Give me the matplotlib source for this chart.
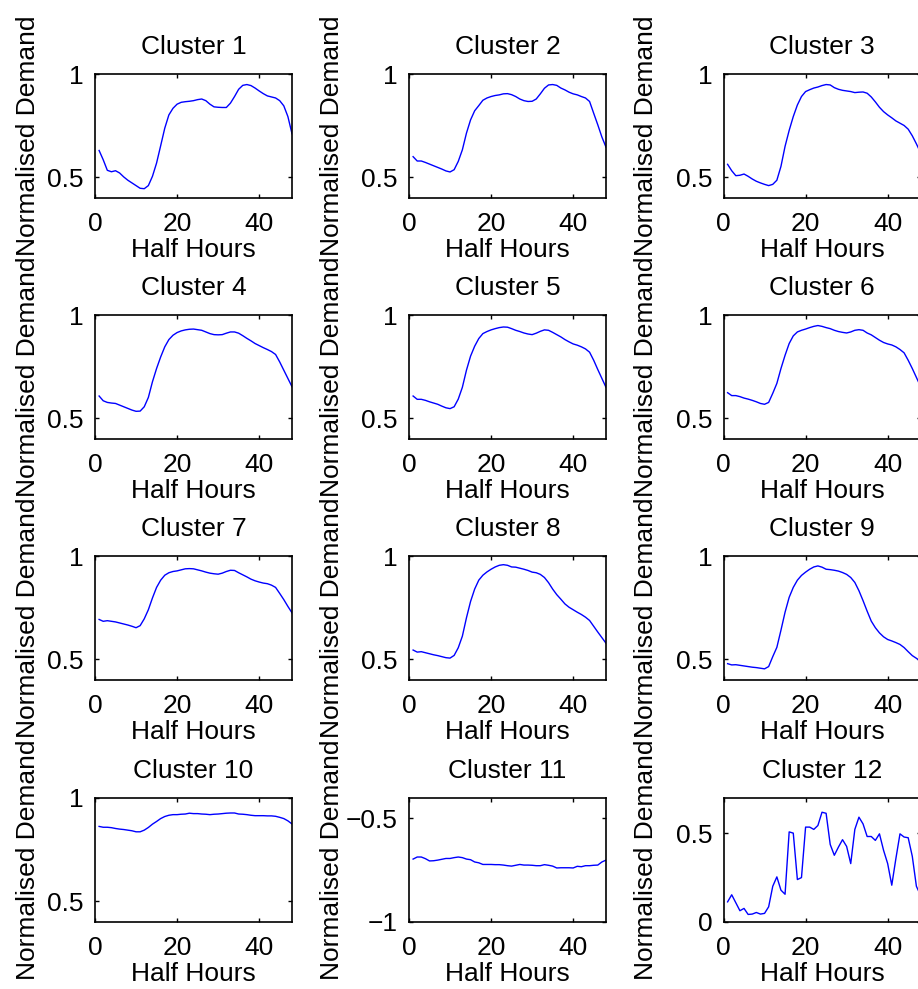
import numpy as np
import matplotlib
matplotlib.use("Agg")
import matplotlib.pyplot as plt
from matplotlib.ticker import FuncFormatter

plt.rcParams['font.family'] = ['Liberation Sans', 'DejaVu Sans']
FS = 19
plt.rcParams['font.size'] = FS

half_hours = list(range(1, 49))

cluster_1 = [0.630, 0.585, 0.534, 0.527, 0.532, 0.521, 0.502, 0.486, 0.473, 0.460, 0.447, 0.445,
             0.460, 0.505, 0.569, 0.653, 0.738, 0.802, 0.834, 0.854, 0.863, 0.866, 0.868, 0.871,
             0.876, 0.879, 0.871, 0.854, 0.841, 0.839, 0.838, 0.838, 0.859, 0.891, 0.926, 0.945,
             0.949, 0.944, 0.932, 0.918, 0.905, 0.894, 0.889, 0.884, 0.871, 0.846, 0.794, 0.711]
cluster_2 = [0.600, 0.579, 0.579, 0.572, 0.564, 0.556, 0.548, 0.540, 0.531, 0.526, 0.537, 0.577,
             0.633, 0.714, 0.778, 0.822, 0.847, 0.873, 0.884, 0.891, 0.896, 0.899, 0.904, 0.905,
             0.900, 0.891, 0.879, 0.871, 0.867, 0.868, 0.879, 0.904, 0.931, 0.947, 0.949, 0.945,
             0.932, 0.923, 0.912, 0.904, 0.899, 0.891, 0.884, 0.867, 0.810, 0.754, 0.695, 0.646]
cluster_3 = [0.563, 0.532, 0.508, 0.510, 0.516, 0.505, 0.492, 0.481, 0.473, 0.466, 0.460, 0.466,
             0.486, 0.553, 0.650, 0.727, 0.794, 0.850, 0.891, 0.915, 0.924, 0.932, 0.937, 0.944,
             0.949, 0.947, 0.934, 0.926, 0.921, 0.918, 0.915, 0.910, 0.912, 0.913, 0.907, 0.889,
             0.865, 0.839, 0.818, 0.802, 0.788, 0.773, 0.762, 0.751, 0.733, 0.701, 0.662, 0.620]
cluster_4 = [0.608, 0.585, 0.577, 0.574, 0.572, 0.564, 0.556, 0.548, 0.540, 0.534, 0.535, 0.556,
             0.601, 0.677, 0.741, 0.797, 0.846, 0.881, 0.902, 0.915, 0.923, 0.928, 0.931, 0.932,
             0.929, 0.926, 0.918, 0.910, 0.905, 0.904, 0.905, 0.912, 0.918, 0.918, 0.912, 0.900,
             0.887, 0.875, 0.862, 0.852, 0.842, 0.833, 0.823, 0.809, 0.773, 0.733, 0.693, 0.653]
cluster_5 = [0.608, 0.592, 0.592, 0.587, 0.580, 0.574, 0.568, 0.559, 0.551, 0.547, 0.556, 0.593,
             0.650, 0.733, 0.801, 0.849, 0.886, 0.910, 0.920, 0.928, 0.934, 0.939, 0.942, 0.941,
             0.934, 0.926, 0.920, 0.913, 0.908, 0.905, 0.912, 0.921, 0.928, 0.926, 0.916, 0.905,
             0.894, 0.881, 0.870, 0.860, 0.854, 0.846, 0.836, 0.820, 0.781, 0.736, 0.693, 0.650]
cluster_6 = [0.624, 0.610, 0.610, 0.605, 0.598, 0.593, 0.587, 0.580, 0.572, 0.568, 0.577, 0.621,
             0.669, 0.741, 0.805, 0.862, 0.899, 0.918, 0.926, 0.932, 0.939, 0.945, 0.949, 0.945,
             0.939, 0.934, 0.926, 0.920, 0.916, 0.913, 0.918, 0.926, 0.929, 0.926, 0.913, 0.904,
             0.891, 0.878, 0.867, 0.860, 0.855, 0.846, 0.833, 0.817, 0.781, 0.741, 0.698, 0.655]
cluster_7 = [0.693, 0.684, 0.687, 0.684, 0.681, 0.676, 0.671, 0.666, 0.660, 0.653, 0.663, 0.696,
             0.740, 0.797, 0.848, 0.883, 0.907, 0.919, 0.925, 0.928, 0.933, 0.938, 0.939, 0.938,
             0.933, 0.928, 0.922, 0.917, 0.914, 0.912, 0.917, 0.925, 0.931, 0.930, 0.919, 0.909,
             0.899, 0.888, 0.880, 0.874, 0.869, 0.866, 0.859, 0.848, 0.819, 0.789, 0.756, 0.725]
cluster_8 = [0.545, 0.535, 0.537, 0.532, 0.527, 0.522, 0.518, 0.513, 0.508, 0.506, 0.519, 0.556,
             0.612, 0.701, 0.780, 0.840, 0.883, 0.907, 0.923, 0.936, 0.947, 0.955, 0.958, 0.955,
             0.947, 0.946, 0.941, 0.936, 0.930, 0.922, 0.919, 0.911, 0.896, 0.871, 0.840, 0.813,
             0.791, 0.768, 0.752, 0.740, 0.728, 0.717, 0.704, 0.688, 0.660, 0.632, 0.605, 0.578]
cluster_9 = [0.479, 0.473, 0.474, 0.471, 0.468, 0.465, 0.462, 0.460, 0.457, 0.454, 0.465, 0.513,
             0.558, 0.641, 0.728, 0.800, 0.848, 0.883, 0.906, 0.922, 0.936, 0.947, 0.952, 0.946,
             0.936, 0.934, 0.931, 0.927, 0.920, 0.911, 0.896, 0.872, 0.832, 0.784, 0.733, 0.685,
             0.653, 0.628, 0.609, 0.596, 0.589, 0.581, 0.572, 0.557, 0.537, 0.518, 0.505, 0.490]
cluster_10 = [0.861, 0.857, 0.857, 0.855, 0.851, 0.848, 0.846, 0.843, 0.840, 0.835, 0.835, 0.843,
              0.856, 0.872, 0.885, 0.899, 0.909, 0.915, 0.918, 0.918, 0.920, 0.921, 0.925, 0.923,
              0.923, 0.921, 0.920, 0.918, 0.920, 0.921, 0.923, 0.925, 0.926, 0.926, 0.921, 0.920,
              0.918, 0.915, 0.913, 0.913, 0.913, 0.912, 0.912, 0.910, 0.905, 0.899, 0.888, 0.873]
cluster_11 = [-0.697, -0.687, -0.687, -0.695, -0.706, -0.705, -0.702, -0.698, -0.694, -0.694, -0.690, -0.687,
              -0.690, -0.697, -0.700, -0.711, -0.715, -0.723, -0.723, -0.723, -0.724, -0.724, -0.726, -0.729,
              -0.731, -0.727, -0.723, -0.726, -0.726, -0.727, -0.729, -0.729, -0.724, -0.727, -0.731, -0.740,
              -0.739, -0.739, -0.739, -0.740, -0.732, -0.734, -0.729, -0.729, -0.727, -0.726, -0.711, -0.702]
cluster_12 = [0.112, 0.152, 0.107, 0.062, 0.075, 0.041, 0.043, 0.052, 0.043, 0.047, 0.084, 0.200,
              0.253, 0.178, 0.155, 0.507, 0.500, 0.238, 0.249, 0.534, 0.534, 0.521, 0.543, 0.618,
              0.612, 0.436, 0.375, 0.421, 0.463, 0.425, 0.328, 0.521, 0.590, 0.552, 0.481, 0.481,
              0.459, 0.496, 0.403, 0.328, 0.206, 0.356, 0.496, 0.478, 0.474, 0.369, 0.200, 0.150]

clusters = [cluster_1, cluster_2, cluster_3, cluster_4, cluster_5, cluster_6,
            cluster_7, cluster_8, cluster_9, cluster_10, cluster_11, cluster_12]
titles = ["Cluster %d" % (i + 1) for i in range(12)]

y_limits = [(0.4, 1.0)] * 10 + [(-1.0, -0.4), (0.0, 0.7)]
y_ticks = [[0.5, 1.0]] * 10 + [[-1.0, -0.5], [0.0, 0.5]]
x_ticks = [0, 20, 40]

W, H = 918, 989
fig = plt.figure(figsize=(W / 100, H / 100), dpi=100)

col_left = [95, 409, 723.5]
row_bottom = [198, 439, 680, 921.7]
ax_w, ax_h = 197, 124


def fmt(v, pos):
    s = "%g" % v
    return s.replace("-", "\u2212")


for i, values in enumerate(clusters):
    r, c = divmod(i, 3)
    ax = fig.add_axes([col_left[c] / W, 1 - row_bottom[r] / H, ax_w / W, ax_h / H])
    ax.plot(half_hours, values, color=(0, 0, 1), lw=1.0)
    ax.set_xlim(0, 48)
    ax.set_ylim(*y_limits[i])
    ax.set_xticks(x_ticks)
    ax.set_yticks(y_ticks[i])
    ax.yaxis.set_major_formatter(FuncFormatter(fmt))
    ax.xaxis.set_major_formatter(FuncFormatter(fmt))
    ax.tick_params(direction='in', top=True, right=True, length=3, width=1.0,
                   labelsize=FS)
    ax.tick_params(axis='x', pad=10)
    ax.tick_params(axis='y', pad=8)
    for sp in ax.spines.values():
        sp.set_linewidth(1.2)
    ax.set_title(titles[i], fontsize=FS, pad=14.5)
    ax.set_xlabel("Half Hours", fontsize=FS)
    ax.set_ylabel("Normalised Demand", fontsize=FS)
    ax.xaxis.set_label_coords(0.5, -0.325)
    ax.yaxis.set_label_coords(-0.28 if c == 0 else -0.33, 0.5)

fig.savefig("out.png", dpi=100)
